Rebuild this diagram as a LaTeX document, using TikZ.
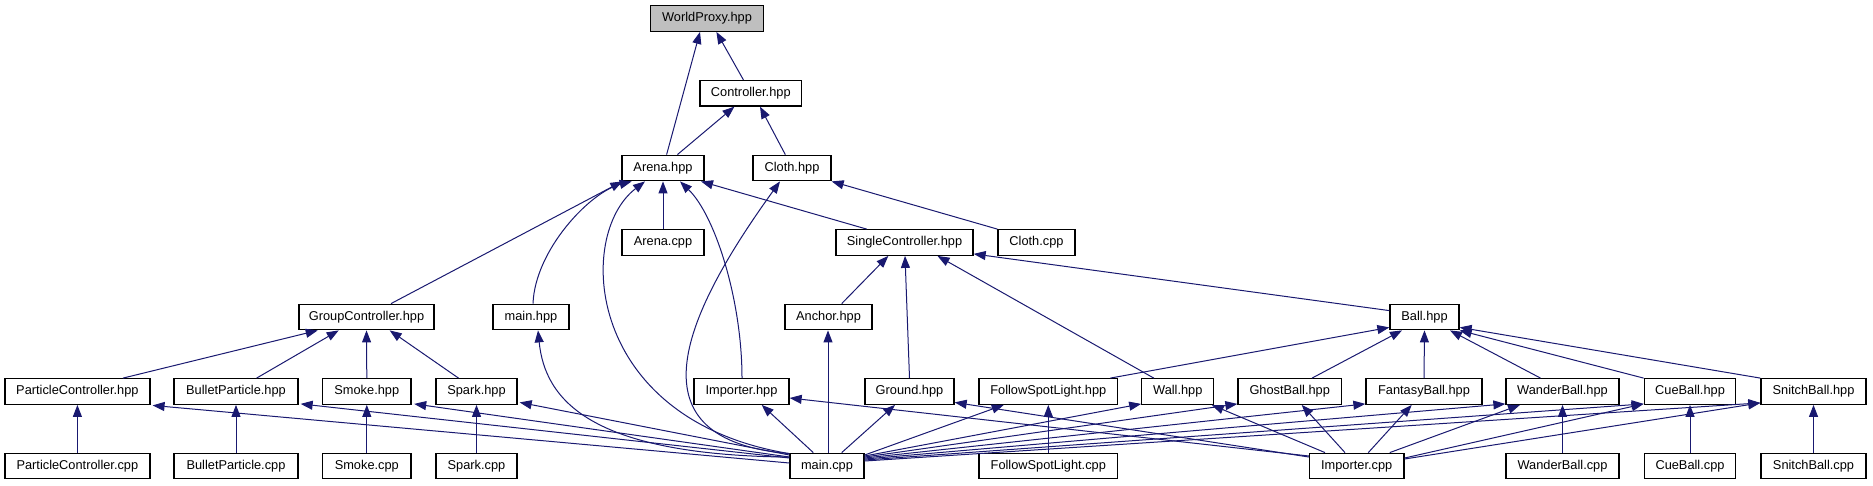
\documentclass[tikz,border=0pt]{standalone}
\usepackage{fontspec}
\setmainfont{Liberation Sans}
\usetikzlibrary{arrows.meta}
\definecolor{edgec}{HTML}{191970}
\definecolor{hilite}{HTML}{BFBFBF}
\begin{document}
\begin{tikzpicture}[x=1pt,y=-1pt,
  box/.style={draw=black,line width=1.3pt,fill=white,inner sep=0pt,minimum height=25.5pt,
    font=\fontsize{12.8}{15}\selectfont},
  dep/.style={draw=edgec,line width=1pt,arrows={Triangle[length=12pt,width=9pt,fill=edgec]-}}]
\useasboundingbox (0,0) rectangle (1873,485);
% row 1-4
\node[box,fill=hilite,minimum width=113.3pt] (wp) at (707,18.5) {WorldProxy.hpp};
\node[box,minimum width=101.5pt] (ctl) at (750.8,93.25) {Controller.hpp};
\node[box,minimum width=82pt] (ah) at (663,168) {Arena.hpp};
\node[box,minimum width=78pt] (clh) at (792,168) {Cloth.hpp};
\node[box,minimum width=82pt] (ac) at (663,242.5) {Arena.cpp};
\node[box,minimum width=137pt] (sc) at (904.5,242.5) {SingleController.hpp};
\node[box,minimum width=77pt] (clc) at (1036.5,242.5) {Cloth.cpp};
% row 5
\node[box,minimum width=135pt] (gc) at (366.5,317) {GroupController.hpp};
\node[box,minimum width=76pt] (mh) at (531,317) {main.hpp};
\node[box,minimum width=87pt] (anc) at (828.5,317) {Anchor.hpp};
\node[box,minimum width=69pt] (ball) at (1424.5,317) {Ball.hpp};
% row 6
\node[box,minimum width=145pt] (pch) at (77.4,391.5) {ParticleController.hpp};
\node[box,minimum width=124pt] (bph) at (236,391.5) {BulletParticle.hpp};
\node[box,minimum width=88.5pt] (smh) at (366.8,391.5) {Smoke.hpp};
\node[box,minimum width=81pt] (sph) at (476.5,391.5) {Spark.hpp};
\node[box,minimum width=95pt] (imh) at (741.5,391.5) {Importer.hpp};
\node[box,minimum width=89pt] (grh) at (909.5,391.5) {Ground.hpp};
\node[box,minimum width=138.6pt] (fsh) at (1048.3,391.5) {FollowSpotLight.hpp};
\node[box,minimum width=72pt] (wah) at (1177.8,391.5) {Wall.hpp};
\node[box,minimum width=103.4pt] (ghh) at (1289.7,391.5) {GhostBall.hpp};
\node[box,minimum width=116pt] (fbh) at (1424,391.5) {FantasyBall.hpp};
\node[box,minimum width=113pt] (wbh) at (1562.5,391.5) {WanderBall.hpp};
\node[box,minimum width=91.5pt] (cbh) at (1690,391.5) {CueBall.hpp};
\node[box,minimum width=105pt] (snh) at (1813.5,391.5) {SnitchBall.hpp};
% row 7
\node[box,minimum width=145pt] (pcc) at (77.4,466) {ParticleController.cpp};
\node[box,minimum width=124pt] (bpc) at (236,466) {BulletParticle.cpp};
\node[box,minimum width=88.5pt] (smc) at (366.8,466) {Smoke.cpp};
\node[box,minimum width=81pt] (spc) at (476.5,466) {Spark.cpp};
\node[box,minimum width=74pt] (mc) at (827,466) {main.cpp};
\node[box,minimum width=138.6pt] (fsc) at (1048.3,466) {FollowSpotLight.cpp};
\node[box,minimum width=94.5pt] (imc) at (1356.7,466) {Importer.cpp};
\node[box,minimum width=113pt] (wbc) at (1562.5,466) {WanderBall.cpp};
\node[box,minimum width=91.5pt] (cbc) at (1690,466) {CueBall.cpp};
\node[box,minimum width=105pt] (snc) at (1813.5,466) {SnitchBall.cpp};

% upper edges
\draw[dep] ([xshift=-7pt]wp.south) -- ([xshift=3.6pt]ah.north);
\draw[dep] ([xshift=9.4pt]wp.south) -- ([xshift=-7.4pt]ctl.north);
\draw[dep] ([xshift=-16.4pt]ctl.south) -- ([xshift=14.4pt]ah.north);
\draw[dep] ([xshift=9.2pt]ctl.south) -- ([xshift=-6.7pt]clh.north);
\draw[dep] (ah.south) -- (ac.north);
\draw[dep] ([xshift=38pt]ah.south) -- ([xshift=-37.8pt]sc.north);
\draw[dep] (clh.south east) -- (clc.north west);
\draw[dep] ([xshift=1pt]ah.south west) -- ([xshift=24.5pt]gc.north);
\draw[dep] ([xshift=-31.3pt]ah.south) .. controls (590,192) and (535,250) .. ([xshift=2pt]mh.north);
\draw[dep] ([xshift=-18pt]ah.south) .. controls (575,235) and (585,420) .. ([yshift=-1pt]mc.north west);
\draw[dep] ([xshift=17pt]ah.south) .. controls (715,215) and (742,300) .. ([xshift=0.5pt]imh.north);
\draw[dep] ([xshift=-12pt]clh.south) .. controls (680,320) and (630,440) .. ([yshift=-1pt]mc.north west);
\draw[dep] ([xshift=-16.2pt]sc.south) -- ([xshift=13.2pt]anc.north);
\draw[dep] ([xshift=0.5pt]sc.south) -- (grh.north);
\draw[dep] ([xshift=33pt]sc.south) -- ([xshift=-24pt]wah.north);
\draw[dep] ([yshift=2pt]sc.south east) -- ([yshift=-7pt]ball.north west);
% Ball
\draw[dep] ([yshift=3pt]ball.south west) -- ([xshift=62pt]fsh.north);
\draw[dep] ([xshift=-22.5pt]ball.south) -- ([xshift=22.3pt]ghh.north);
\draw[dep] (ball.south) -- (fbh.north);
\draw[dep] ([xshift=25.5pt]ball.south) -- ([xshift=-22pt]wbh.north);
\draw[dep] (ball.south east) -- (cbh.north west);
\draw[dep] ([yshift=3pt]ball.south east) -- (snh.north west);
% GroupController
\draw[dep] ([xshift=-48.8pt]gc.south) -- ([xshift=45.6pt]pch.north);
\draw[dep] ([xshift=-27.8pt]gc.south) -- ([xshift=20.6pt]bph.north);
\draw[dep] (gc.south) -- (smh.north);
\draw[dep] ([xshift=23.2pt]gc.south) -- ([xshift=-18pt]sph.north);
% main.hpp, Anchor
\draw[dep] ([xshift=7pt]mh.south) .. controls (545,400) and (590,455) .. ([yshift=-4.5pt]mc.north west);
\draw[dep] ([xshift=-0.5pt]anc.south) -- ([xshift=1pt]mc.north);
% row 6 -> row 7 verticals
\draw[dep] (pch.south) -- (pcc.north);
\draw[dep] (bph.south) -- (bpc.north);
\draw[dep] (smh.south) -- (smc.north);
\draw[dep] (sph.south) -- (spc.north);
\draw[dep] (fsh.south) -- (fsc.north);
\draw[dep] (wbh.south) -- (wbc.north);
\draw[dep] (cbh.south) -- (cbc.north);
\draw[dep] (snh.south) -- (snc.north);
% main.cpp to the left
\draw[dep] ([xshift=2pt,yshift=-0.5pt]pch.south east) -- ([yshift=3pt]mc.west);
\draw[dep] ([xshift=2pt,yshift=1pt]bph.south east) -- ([yshift=8pt]mc.west);
\draw[dep] ([xshift=2.5pt,yshift=1pt]smh.south east) -- ([yshift=9pt]mc.west);
\draw[dep] ([xshift=2pt,yshift=2.5pt]sph.south east) -- ([yshift=11pt]mc.west);
% main.cpp upward
\draw[dep] ([xshift=20.2pt]imh.south) -- ([xshift=-13.7pt]mc.north);
\draw[dep] ([xshift=-14.5pt]grh.south) -- ([xshift=14.7pt]mc.north);
% main.cpp to the right
\draw[dep] ([xshift=-44.5pt]fsh.south) -- ([yshift=11pt]mc.east);
\draw[dep] ([yshift=1pt]wah.south west) -- ([yshift=10pt]mc.east);
\draw[dep] ([yshift=1pt]ghh.south west) -- ([yshift=9pt]mc.east);
\draw[dep] ([yshift=1pt]fbh.south west) -- ([yshift=8pt]mc.east);
\draw[dep] ([yshift=1pt]wbh.south west) -- ([yshift=7pt]mc.east);
\draw[dep] ([yshift=1pt]cbh.south west) -- ([yshift=6pt]mc.east);
\draw[dep] ([yshift=2pt]snh.south west) -- ([yshift=5pt]mc.east);
% Importer.cpp
\draw[dep] ([yshift=-6.5pt]imh.east) -- ([yshift=10pt]imc.west);
\draw[dep] ([yshift=2.5pt]grh.south east) -- ([yshift=9pt]imc.west);
\draw[dep] ([xshift=33.9pt]wah.south) -- ([xshift=-31.7pt]imc.north);
\draw[dep] ([xshift=12pt]ghh.south) -- ([xshift=-11.7pt]imc.north);
\draw[dep] ([xshift=-12.3pt]fbh.south) -- ([xshift=11.6pt]imc.north);
\draw[dep] ([xshift=-42.5pt]wbh.south) -- ([xshift=33pt]imc.north);
\draw[dep] ([yshift=1pt]cbh.south west) -- ([yshift=8pt]imc.east);
\draw[dep] ([yshift=2pt]snh.south west) -- ([yshift=7pt]imc.east);
\end{tikzpicture}
\end{document}
